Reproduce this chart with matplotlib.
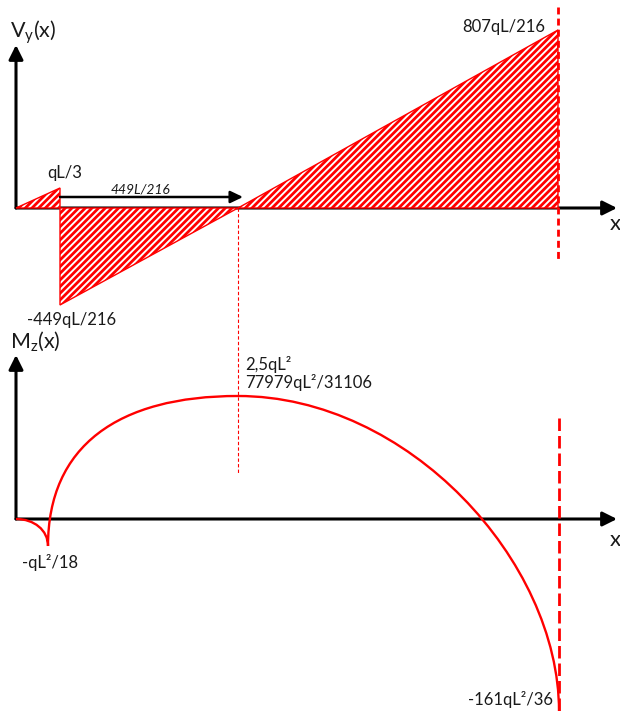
import matplotlib
matplotlib.use("Agg")
import matplotlib.pyplot as plt
from matplotlib.patches import Polygon, PathPatch
from matplotlib.path import Path

plt.rcParams['font.family'] = ['Lato', 'DejaVu Sans']
plt.rcParams['mathtext.fontset'] = 'custom'
plt.rcParams['mathtext.rm'] = 'Lato'
plt.rcParams['mathtext.it'] = 'Lato:italic'
plt.rcParams['hatch.linewidth'] = 2.0

# ---------------- data (diagram units, origin at each diagram's origin) -------------
# Shear diagram V_y(x)
shear_pos_x = [0, 44, 44]          # first positive triangle
shear_pos_v = [0, 20, 0]
shear_neg_x = [44, 44, 222]        # negative triangle
shear_neg_v = [0, -97, 0]
shear_end_x = [222, 542, 542]      # last positive triangle
shear_end_v = [0, 178, 0]
zero_shear_x = 222                 # x where V = 0 (449L/216)
span_end_x = 542                   # end of beam
dist_arrow = [44, 227]             # arrow showing 449L/216
dist_arrow_v = 11

shear_labels = ["qL/3", "-449qL/216", "807qL/216"]
dist_label = "449L/216"

# Moment diagram M_z(x): Bezier curve points
m_seg1 = [(0, 0), (18, 0), (32, -11), (32, -27)]
m_seg2 = [(32, -27), (32, 73), (102, 123), (222, 123)]
m_seg3 = [(222, 123), (392, 123), (543, -42), (543, -192)]
moment_labels = ["-qL²/18", "2,5qL²", "77979qL²/31106", "-161qL²/36"]

RED = "#ff0000"
TXT = "#1a1a1a"

fig = plt.figure(figsize=(6.2, 7.11), dpi=100)
ax_b = fig.add_axes([0, 0, 1, 381 / 711])
ax_t = fig.add_axes([0, 1 - 330 / 711, 1, 330 / 711])
ax_t.set_zorder(3)
for ax in (ax_t, ax_b):
    ax.axis('off')
    ax.patch.set_visible(False)
ax_t.set_xlim(-16, 604)
ax_t.set_ylim(-122, 208)
ax_b.set_xlim(-16, 604)
ax_b.set_ylim(-192, 189)


def arrow(ax, start, end, lw=2.2, hl=8.6, hw=4.3):
    ax.annotate('', xy=end, xytext=start,
                arrowprops=dict(arrowstyle=f'-|>,head_length={hl},head_width={hw}',
                                lw=lw, color='black', shrinkA=0, shrinkB=0,
                                mutation_scale=1),
                annotation_clip=False)


# ---------------- shear diagram ----------------
arrow(ax_t, (0, 0), (0, 163))
arrow(ax_t, (0, 0), (601, 0))

for xs, vs in ((shear_pos_x, shear_pos_v), (shear_neg_x, shear_neg_v),
               (shear_end_x, shear_end_v)):
    ax_t.add_patch(Polygon(list(zip(xs, vs)), closed=True, facecolor='white',
                           edgecolor=RED, hatch='/////', lw=1.0, zorder=3))

ax_t.plot([span_end_x, span_end_x], [201, -54], color=RED, lw=2.0,
          ls=(0, (2.5, 1.5)), zorder=4)
ax_t.plot([zero_shear_x, zero_shear_x], [0, -265], color=RED, lw=0.8,
          ls=(0, (3, 2)), zorder=4, clip_on=False)
arrow(ax_t, (dist_arrow[0], dist_arrow_v), (dist_arrow[1], dist_arrow_v),
      lw=1.8, hl=7.5, hw=3.6)

fs = 12
ax_t.text(-6, 170, r'$\mathregular{V_y}$(x)', fontsize=15.5, ha='left', va='baseline', color=TXT)
ax_t.text(594, -22, 'x', fontsize=16, ha='left', va='baseline', color=TXT)
ax_t.text(31, 30, shear_labels[0], fontsize=fs, ha='left', va='baseline', color=TXT)
ax_t.text(11, -117, shear_labels[1], fontsize=fs, ha='left', va='baseline', color=TXT)
ax_t.text(529, 176, shear_labels[2], fontsize=fs, ha='right', va='baseline', color=TXT)
ax_t.text(95, 15, dist_label, fontsize=10, style='italic', ha='left', va='baseline', color=TXT)

# ---------------- moment diagram ----------------
arrow(ax_b, (0, 0), (0, 164))
arrow(ax_b, (0, 0), (601, 0))

verts = m_seg1 + m_seg2[1:] + m_seg3[1:]
codes = [Path.MOVETO] + [Path.CURVE4] * (len(verts) - 1)
ax_b.add_patch(PathPatch(Path(verts, codes), facecolor='none', edgecolor=RED,
                         lw=1.7, zorder=3, clip_on=False))
ax_b.plot([span_end_x + 1, span_end_x + 1], [101, -195], color=RED, lw=2.0,
          ls=(0, (4.5, 1.8)), zorder=4, clip_on=False)

ax_b.text(-6, 171, r'$\mathregular{M_z}$(x)', fontsize=15.5, ha='left', va='baseline', color=TXT)
ax_b.text(594, -27, 'x', fontsize=16, ha='left', va='baseline', color=TXT)
ax_b.text(6, -49, moment_labels[0], fontsize=fs, ha='left', va='baseline', color=TXT)
ax_b.text(229, 149, moment_labels[1], fontsize=fs, ha='left', va='baseline', color=TXT)
ax_b.text(229, 131, moment_labels[2], fontsize=fs, ha='left', va='baseline', color=TXT)
ax_b.text(537, -186, moment_labels[3], fontsize=fs, ha='right', va='baseline', color=TXT)

fig.savefig('out.png', dpi=100, facecolor='white')
